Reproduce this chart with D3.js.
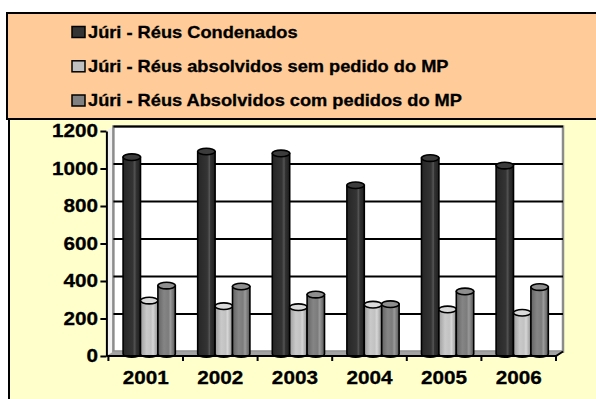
<!DOCTYPE html>
<html>
<head>
<meta charset="utf-8">
<script src="https://cdn.jsdelivr.net/npm/d3@7"></script>
<style>
  html, body { margin: 0; padding: 0; background: #ffffff; }
  svg { display: block; }
  text { font-family: "Liberation Sans", Arial, Helvetica, sans-serif; font-weight: bold; fill: #000; stroke: #000; stroke-width: 0.3px; }
</style>
</head>
<body>
<svg id="chart" width="596" height="399"></svg>
<script>
// Júri data by year
const years = ["2001", "2002", "2003", "2004", "2005", "2006"];
const seriesNames = [
  "Júri - Réus Condenados",
  "Júri - Réus absolvidos sem pedido do MP",
  "Júri - Réus Absolvidos com pedidos do MP"
];
const condenados = [1050, 1080, 1070, 900, 1045, 1005];
const absolvidosSemPedido = [285, 255, 250, 263, 238, 220];
const absolvidosComPedido = [365, 360, 317, 266, 334, 357];
const yTicks = [0, 200, 400, 600, 800, 1000, 1200];

const seriesValues = [condenados, absolvidosSemPedido, absolvidosComPedido];
const seriesKeys = ["s0", "s1", "s2"];

const svg = d3.select("#chart");
const stretch = 1.12; // horizontal text stretch

// chart area background
svg.append("rect").attr("x", 9).attr("y", 119).attr("width", 620).attr("height", 320)
  .attr("fill", "#FFFFCC").attr("stroke", "#000").attr("stroke-width", 2);

// scales (front plane)
const x0 = d3.scaleBand().domain(years).range([108.4, 556]).paddingInner(0.3).paddingOuter(0.15);
const x1 = d3.scaleBand().domain(seriesKeys).range([0, x0.bandwidth()]);
const y = d3.scaleLinear().domain([0, 1200]).range([356, 131]);

// depth offsets for back wall and bars
const wallDx = 7, wallDy = -4.5;
const barDx = 3.5, barDy = -2;

const x0Left = x0.range()[0], x0Right = x0.range()[1];

// side wall
svg.append("path")
  .attr("d", `M${x0Left - 2},${y(0)} L${x0Left - 2},${y(1200)} L${x0Left - 2 + wallDx},${y(1200) + wallDy} L${x0Left - 2 + wallDx},${y(0) + wallDy} Z`)
  .attr("fill", "#f2f2f2");

// back wall
svg.append("rect")
  .attr("x", x0Left - 2 + wallDx).attr("y", y(1200) + wallDy)
  .attr("width", x0Right - x0Left + 2).attr("height", y(0) - y(1200))
  .attr("fill", "#ffffff").attr("stroke", "#8c8c8c").attr("stroke-width", 2.5);

// floor
svg.append("path")
  .attr("d", `M${x0Left - 2},${y(0)} L${x0Right},${y(0)} L${x0Right + wallDx},${y(0) + wallDy} L${x0Left - 2 + wallDx},${y(0) + wallDy} Z`)
  .attr("fill", "#a3a3a3");

// gridlines on the back wall
svg.append("g").selectAll("line").data(yTicks.filter(d => d > 0)).join("line")
  .attr("x1", x0Left - 2 + wallDx).attr("x2", x0Right + wallDx)
  .attr("y1", d => y(d) + wallDy).attr("y2", d => y(d) + wallDy)
  .attr("stroke", "#000").attr("stroke-width", 2);

// gradients for cylinder shading
const defs = svg.append("defs");
const grads = [
  [[0, "#262626"], [0.55, "#343434"], [0.68, "#555555"], [0.74, "#333333"], [1, "#1e1e1e"]],
  [[0, "#9e9e9e"], [0.35, "#c9c9c9"], [0.6, "#c2c2c2"], [0.72, "#d6d6d6"], [1, "#909090"]],
  [[0, "#646464"], [0.35, "#858585"], [0.6, "#7c7c7c"], [0.72, "#9a9a9a"], [1, "#555555"]]
];
const topFill = ["#3c3c3c", "#dadada", "#8e8e8e"];
grads.forEach((stops, i) => {
  const g = defs.append("linearGradient").attr("id", "g" + i)
    .attr("x1", "0%").attr("x2", "100%").attr("y1", "0%").attr("y2", "0%");
  stops.forEach(s => g.append("stop").attr("offset", s[0]).attr("stop-color", s[1]));
});

// cylinders
const ry = 3.3;
const barData = [];
years.forEach((yr, i) => {
  seriesKeys.forEach((k, s) => {
    barData.push({ year: yr, key: k, s: s, value: seriesValues[s][i] });
  });
});
const bars = svg.append("g").selectAll("g").data(barData).join("g");
bars.each(function (d) {
  const g = d3.select(this);
  const left = x0(d.year) + x1(d.key) + barDx;
  const w = x1.bandwidth();
  const rx = w / 2;
  const top = y(d.value) + barDy;
  const bottom = y(0) + barDy;
  g.append("path")
    .attr("d", `M${left},${top} L${left},${bottom} A${rx},${ry} 0 0 0 ${left + w},${bottom} L${left + w},${top} Z`)
    .attr("fill", `url(#g${d.s})`).attr("stroke", "#000").attr("stroke-width", 1.6);
  g.append("ellipse")
    .attr("cx", left + rx).attr("cy", top).attr("rx", rx).attr("ry", ry)
    .attr("fill", topFill[d.s]).attr("stroke", "#000").attr("stroke-width", 1.6);
});

// y axis
const yAxis = svg.append("g").attr("transform", `translate(${x0Left - 2},0)`)
  .call(d3.axisLeft(y).tickValues(yTicks).tickFormat(d3.format("d"))
    .tickSize(6).tickSizeOuter(0).tickPadding(1.5));
yAxis.select(".domain").attr("stroke", "#000").attr("stroke-width", 2);
yAxis.selectAll(".tick line").attr("stroke", "#000").attr("stroke-width", 2);
yAxis.selectAll(".tick text")
  .attr("font-size", "18.5px").attr("font-family", "Liberation Sans, Arial, sans-serif")
  .attr("font-weight", "bold").attr("fill", "#000")
  .attr("transform", `scale(${stretch},1)`);

// x axis (labels at category centres)
const xAxis = svg.append("g").attr("transform", `translate(0,${y(0)})`)
  .call(d3.axisBottom(x0).tickSize(0).tickPadding(15));
xAxis.select(".domain").attr("stroke", "#000").attr("stroke-width", 2)
  .attr("d", `M${x0Left - 2},0 H${x0Right} L${x0Right + wallDx},${wallDy}`).attr("fill", "none");
xAxis.selectAll(".tick text")
  .attr("font-size", "18.5px").attr("font-family", "Liberation Sans, Arial, sans-serif")
  .attr("font-weight", "bold").attr("fill", "#000")
  .attr("transform", `scale(${stretch},1)`);
// category boundary ticks
const bounds = d3.range(years.length + 1).map(i => x0Left + i * x0.step());
xAxis.append("g").selectAll("line").data(bounds).join("line")
  .attr("x1", d => d).attr("x2", d => d).attr("y1", 0).attr("y2", 5)
  .attr("stroke", "#000").attr("stroke-width", 2);

// legend
svg.append("rect").attr("x", 7).attr("y", 13).attr("width", 620).attr("height", 106)
  .attr("fill", "#FFCC99").attr("stroke", "#000").attr("stroke-width", 2);
const swatch = ["#333333", "#c0c0c0", "#808080"];
const legendBase = [37.5, 71.8, 106];
const leg = svg.append("g").selectAll("g").data(seriesNames).join("g");
leg.append("rect")
  .attr("x", 72).attr("y", (d, i) => legendBase[i] - 11)
  .attr("width", 13).attr("height", 11)
  .attr("fill", (d, i) => swatch[i]).attr("stroke", "#000").attr("stroke-width", 1.5);
leg.append("text")
  .attr("transform", (d, i) => `translate(88,${legendBase[i]}) scale(1.14,1)`)
  .attr("font-size", "16px")
  .text(d => d);
</script>
</body>
</html>
